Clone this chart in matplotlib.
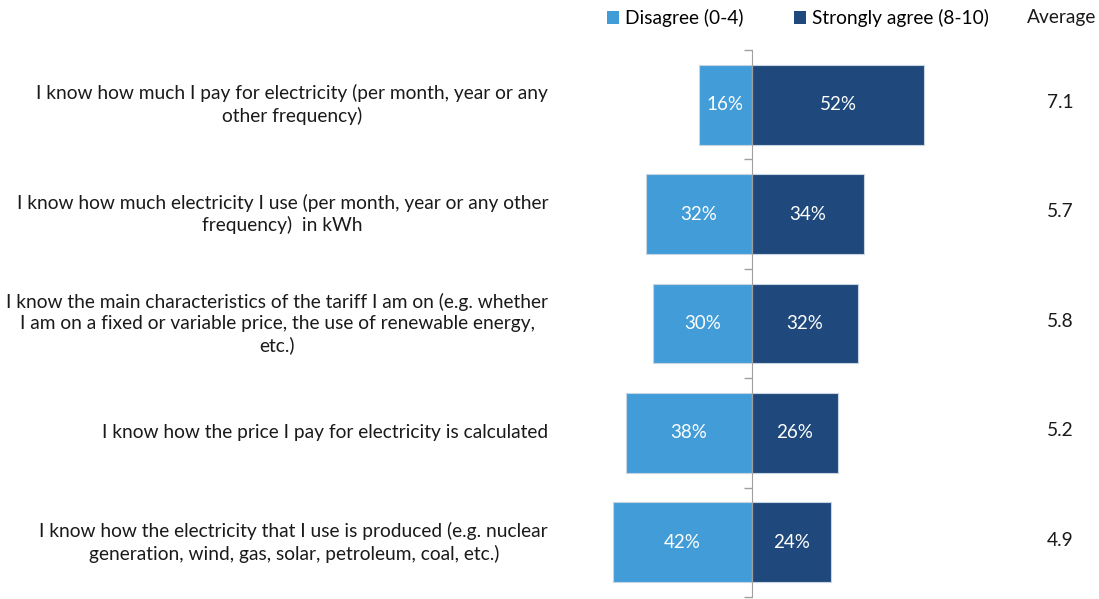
import numpy as np
import matplotlib.pyplot as plt
from matplotlib.patches import Patch
from matplotlib.transforms import blended_transform_factory

plt.rcParams['font.family'] = ['Lato', 'DejaVu Sans']

statements = [
    'I know how much I pay for electricity (per month, year or any\nother frequency)',
    'I know how much electricity I use (per month, year or any other\nfrequency)  in kWh',
    'I know the main characteristics of the tariff I am on (e.g. whether\nI am on a fixed or variable price, the use of renewable energy,\netc.)',
    'I know how the price I pay for electricity is calculated',
    'I know how the electricity that I use is produced (e.g. nuclear\ngeneration, wind, gas, solar, petroleum, coal, etc.)',
]
disagree = [16, 32, 30, 38, 42]
strongly_agree = [52, 34, 32, 26, 24]
average = [7.1, 5.7, 5.8, 5.2, 4.9]

c_dis = '#429CD8'
c_agr = '#1F497D'
fs = 13.8

W, H = 1099, 599
fig = plt.figure(figsize=(W / 100, H / 100), dpi=100)
ax = fig.add_axes([560 / W, 2 / H, 440 / W, 547 / H])

y = np.arange(len(statements))
ax.barh(y, [-d for d in disagree], height=0.73, color=c_dis, edgecolor='#C8D4E0', linewidth=0.8)
ax.barh(y, strongly_agree, height=0.73, color=c_agr, edgecolor='#C8D4E0', linewidth=0.8)

for i in y:
    ax.text(-disagree[i] / 2, i, f'{disagree[i]}%', ha='center', va='center', color='white', fontsize=13.5)
    ax.text(strongly_agree[i] / 2, i, f'{strongly_agree[i]}%', ha='center', va='center', color='white', fontsize=13.5)

ax.set_xlim(-58, 75)
ax.set_ylim(len(statements) - 0.5, -0.5)

# only the centre axis line with ticks between categories
for s in ['top', 'right', 'bottom']:
    ax.spines[s].set_visible(False)
ax.spines['left'].set_position(('data', 0))
ax.spines['left'].set_color('#A0A0A0')
ax.set_xticks([])
ax.set_yticks(np.arange(-0.5, len(statements), 1))
ax.set_yticklabels([])
ax.tick_params(axis='y', direction='out', length=6, color='#A0A0A0', width=1)

tr = blended_transform_factory(ax.transAxes, ax.transData)
for i, s in enumerate(statements):
    ax.text(-0.027, i, s, transform=tr, ha='right', va='center', multialignment='center',
            fontsize=fs, color='#1A1A1A', linespacing=1.3)
    ax.text(1.136, i - 0.02, f'{average[i]}', transform=tr, ha='center', va='center',
            fontsize=fs, color='#1A1A1A')

fig.text(1062 / W, 1 - 18 / H, 'Average', ha='center', va='center', fontsize=fs, color='#1A1A1A')

handles = [Patch(facecolor=c_dis, label='Disagree (0-4)'),
           Patch(facecolor=c_agr, label='Strongly agree (8-10)')]
fig.legend(handles=handles, loc='center left', bbox_to_anchor=(607 / W, 1 - 18 / H), ncol=2,
           frameon=False, fontsize=fs, handlelength=0.65, handleheight=0.65,
           handletextpad=0.3, columnspacing=2.6, borderaxespad=0, borderpad=0)

fig.savefig('out.png', dpi=100)
